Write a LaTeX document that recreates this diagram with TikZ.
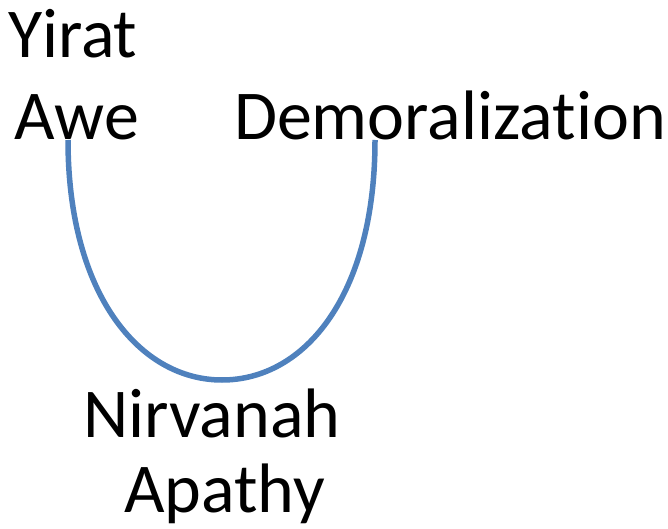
\documentclass[tikz,border=0pt]{standalone}
\usepackage{fontspec}
\setmainfont[Ligatures=NoCommon]{Carlito}
\begin{document}
\begin{tikzpicture}[x=1pt,y=-1pt,
  lbl/.style={anchor=base west,inner sep=0pt,outer sep=0pt,font=\fontsize{70}{74}\selectfont},
  curve/.style={draw={rgb,255:red,79;green,129;blue,189},line width=5.5pt}]
\useasboundingbox (0,0) rectangle (668,529);
\node[lbl] (yirat) at (9,58) {Yirat};
\node[lbl] (awe) at (14,140) {Awe};
\node[lbl] (demo) at (234,140) {Demoralization};
\node[lbl] (nirv) at (83,437) {Nirvanah};
\node[lbl] (apathy) at (124,512) {Apathy};
\coordinate (l) at (68,140);
\coordinate (b) at (222,380);
\coordinate (r) at (375,140);
\draw[curve] (l) .. controls (68,295) and (140,380) .. (b) .. controls (305,380) and (375,295) .. (r);
\end{tikzpicture}
\end{document}
